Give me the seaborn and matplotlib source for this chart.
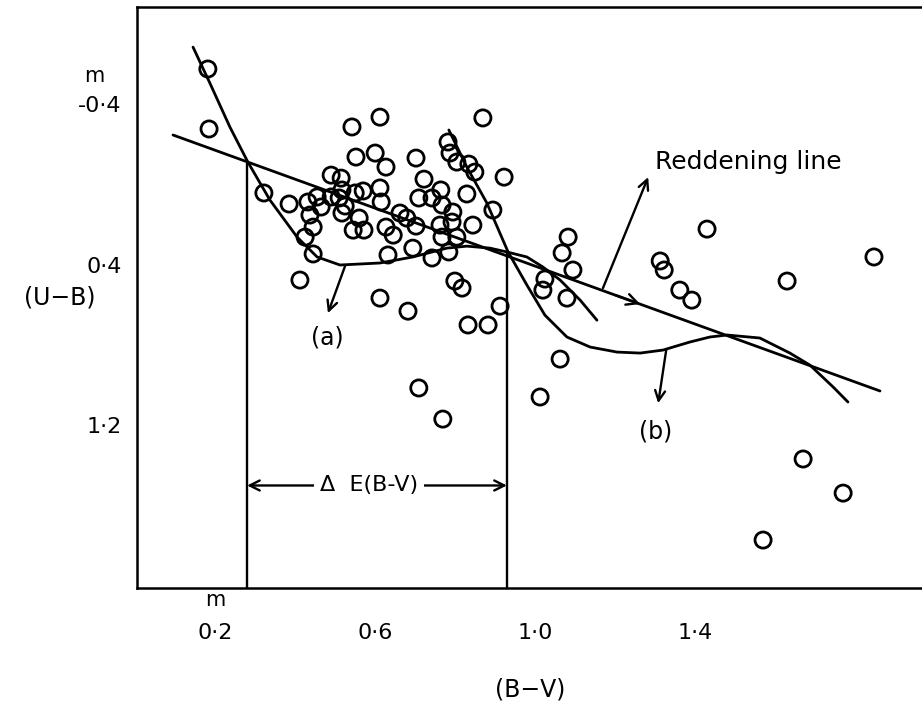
import numpy as np
import pandas as pd
import matplotlib
matplotlib.use("Agg")
import matplotlib.pyplot as plt
import seaborn as sns

# ---------------- data ----------------
bv = [0.182, 0.185, 0.322, 0.385, 0.412, 0.432, 0.455, 0.465, 0.490, 0.517,
      0.510, 0.550, 0.570, 0.612, 0.615, 0.525, 0.517, 0.437, 0.445, 0.425,
      0.445, 0.560, 0.545, 0.572, 0.627, 0.645, 0.632, 0.490, 0.515, 0.542,
      0.612, 0.552, 0.600, 0.627, 0.702, 0.722, 0.782, 0.787, 0.804, 0.834,
      0.849, 0.869, 0.922, 0.709, 0.742, 0.764, 0.767, 0.794, 0.829, 0.894,
      0.844, 0.662, 0.679, 0.702, 0.762, 0.792, 0.767, 0.804, 0.694, 0.742,
      0.784, 0.612, 0.682, 0.799, 0.817, 0.912, 0.832, 0.882, 0.709, 0.769,
      1.082, 1.067, 1.094, 1.024, 1.019, 1.079, 1.062, 1.012, 1.429, 1.312,
      1.322, 1.361, 1.391, 1.629, 1.846, 1.669, 1.769, 1.569]
ub = [-0.576, -0.277, 0.042, 0.097, 0.476, 0.087, 0.062, 0.112, 0.062, 0.027,
      0.067, 0.042, 0.032, 0.017, 0.087, 0.107, 0.142, 0.152, 0.212, 0.262,
      0.346, 0.167, 0.227, 0.227, 0.212, 0.252, 0.351, -0.047, -0.032, -0.287,
      -0.336, -0.137, -0.157, -0.087, -0.132, -0.027, -0.212, -0.157, -0.112, -0.102,
      -0.062, -0.332, -0.037, 0.067, 0.067, 0.027, 0.102, 0.137, 0.047, 0.127,
      0.202, 0.142, 0.167, 0.207, 0.202, 0.187, 0.262, 0.262, 0.317, 0.366,
      0.336, 0.566, 0.631, 0.481, 0.516, 0.606, 0.700, 0.700, 1.014, 1.169,
      0.262, 0.341, 0.426, 0.471, 0.526, 0.566, 0.870, 1.059, 0.222, 0.381,
      0.426, 0.526, 0.576, 0.481, 0.361, 1.368, 1.538, 1.772]

curve_a_bv = [0.145, 0.187, 0.237, 0.282, 0.337, 0.405, 0.455, 0.512, 0.612, 0.694,
              0.779, 0.829, 0.887, 0.929, 0.979, 1.019, 1.062, 1.112, 1.154]
curve_a_ub = [-0.685, -0.506, -0.287, -0.112, 0.077, 0.262, 0.361, 0.401, 0.391, 0.361,
              0.317, 0.307, 0.317, 0.336, 0.361, 0.411, 0.476, 0.576, 0.676]

curve_b_bv = [0.784, 0.829, 0.879, 0.932, 0.979, 1.024, 1.079, 1.137, 1.204, 1.262,
              1.319, 1.386, 1.436, 1.479, 1.561, 1.636, 1.686, 1.744, 1.781]
curve_b_ub = [-0.272, -0.087, 0.092, 0.336, 0.501, 0.651, 0.760, 0.810, 0.835, 0.840,
              0.825, 0.785, 0.760, 0.750, 0.765, 0.840, 0.900, 1.009, 1.084]

redden_bv = [0.095, 1.861]
redden_ub = [-0.247, 1.029]

dE_bv = [0.280, 0.929]          # B-V of the two vertical markers
dE_top = [-0.107, 0.336]        # where they start (on the curves)
dE_level = 1.50                 # height of the Delta E arrow

xtick_vals = [0.2, 0.6, 1.0, 1.4]
xtick_labels = ["0·2", "0·6", "1·0", "1·4"]
ytick_vals = [-0.4, 0.4, 1.2]
ytick_labels = ["-0·4", "0·4", "1·2"]

# ---------------- figure ----------------
sns.set_style("white")
plt.rcParams["font.family"] = ["DejaVu Sans"]
plt.rcParams["text.color"] = "black"
plt.rcParams["axes.labelcolor"] = "black"

W, H = 922, 706
fig = plt.figure(figsize=(W / 100, H / 100), dpi=100)
ax = fig.add_axes([137 / W, 1 - 588 / H, 1 - 137 / W, (588 - 7) / H])

pts = pd.DataFrame({"bv": bv, "ub": ub})
sns.scatterplot(data=pts, x="bv", y="ub", ax=ax, s=135, marker="o",
                facecolor="none", edgecolor="black", linewidth=2.0, zorder=3)

lw = 2.0
sns.lineplot(x=curve_a_bv, y=curve_a_ub, sort=False, estimator=None,
             color="black", lw=lw, ax=ax)
sns.lineplot(x=curve_b_bv, y=curve_b_ub, sort=False, estimator=None,
             color="black", lw=lw, ax=ax)
sns.lineplot(x=redden_bv, y=redden_ub, sort=False, estimator=None,
             color="black", lw=lw, ax=ax)

xlim = (0.005, 1.966)
ylim = (2.011, -0.885)
ax.set_xlim(*xlim)
ax.set_ylim(*ylim)

# Delta E vertical lines
for xv, yt in zip(dE_bv, dE_top):
    ax.plot([xv, xv], [yt, ylim[0]], color="black", lw=1.7)

# Delta E arrow
ax.annotate("", xy=(dE_bv[0], dE_level), xytext=(dE_bv[1], dE_level),
            arrowprops=dict(arrowstyle="<->", lw=1.7, color="black",
                            mutation_scale=18, shrinkA=0, shrinkB=0))
ax.text(sum(dE_bv) / 2 - 0.02, dE_level, "Δ  E(B-V)", ha="center", va="center",
        fontsize=16, color="black",
        bbox=dict(facecolor="white", edgecolor="none", pad=4), zorder=4)

# curve / line labels
arrow_kw = dict(arrowstyle="->", lw=1.7, color="black", mutation_scale=18,
                shrinkA=0, shrinkB=0)
ax.annotate("", xy=(0.482, 0.641), xytext=(0.525, 0.405), arrowprops=arrow_kw)
ax.text(0.48, 0.76, "(a)", ha="center", va="center", fontsize=17, color="black")
ax.annotate("", xy=(1.307, 1.090), xytext=(1.327, 0.825), arrowprops=arrow_kw)
ax.text(1.30, 1.23, "(b)", ha="center", va="center", fontsize=17, color="black")
ax.annotate("", xy=(1.282, -0.037), xytext=(1.169, 0.516), arrowprops=arrow_kw)
ax.text(1.299, -0.11, "Reddening line", ha="left", va="center", fontsize=18,
        color="black")
# direction arrowhead on the reddening line
ax.annotate("", xy=(1.262, 0.596), xytext=(1.20, 0.551),
            arrowprops=dict(arrowstyle="->", lw=1.7, color="black",
                            mutation_scale=20, shrinkA=0, shrinkB=0))

# ticks
ax.set_xticks(xtick_vals)
ax.set_xticklabels(xtick_labels)
ax.set_yticks(ytick_vals)
ax.set_yticklabels(ytick_labels)
ax.tick_params(axis="both", direction="in", length=9, width=1.5,
               labelsize=16, colors="black")
ax.tick_params(axis="x", pad=25)
ax.tick_params(axis="y", pad=11)

for side in ["left", "bottom", "top"]:
    ax.spines[side].set_visible(True)
    ax.spines[side].set_color("black")
    ax.spines[side].set_linewidth(1.8)
ax.spines["right"].set_visible(False)

ax.set_xlabel("")
ax.set_ylabel("")
# unit marks and axis titles
ax.text(0.2, 2.02, "m", ha="center", va="top", fontsize=15,
        color="black").set_clip_on(False)
ax.text(-0.102, -0.54, "m", ha="center", va="center", fontsize=15,
        color="black").set_clip_on(False)
fig.text(60 / W, 1 - 298 / H, "(U−B)", ha="center", va="center", fontsize=17,
         color="black")
fig.text(530 / W, 1 - 690 / H, "(B−V)", ha="center", va="center", fontsize=17,
         color="black")

fig.savefig("out.png", dpi=100)
